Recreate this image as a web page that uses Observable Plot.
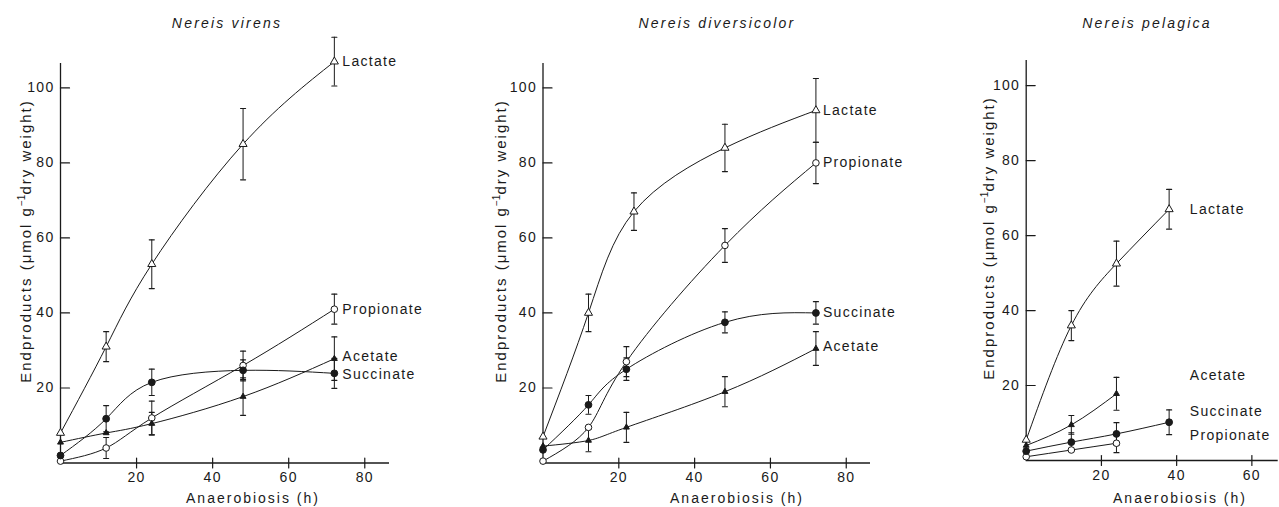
<!DOCTYPE html>
<html><head><meta charset="utf-8">
<script src="https://cdn.jsdelivr.net/npm/d3@7"></script>
<script src="https://cdn.jsdelivr.net/npm/@observablehq/plot@0.6"></script>
<style>
body{margin:0;background:#fff;}
#chart{position:relative;width:1279px;height:507px;overflow:hidden;font-family:"Liberation Sans","DejaVu Sans",sans-serif;color:#1a1a1a;}
.panel{position:absolute;top:0;}
.panel svg{overflow:visible;max-width:none;}
.lbl{position:absolute;white-space:nowrap;transform:translate(-50%,-50%);font-size:14px;letter-spacing:2px;}
.title{font-style:italic;font-size:14px;letter-spacing:2.2px;}
.ylab{transform:translate(-50%,-50%) rotate(-90deg);font-size:15px;letter-spacing:2px;}
.ylab sup{font-size:10px;letter-spacing:0;}
</style></head><body><div id="chart"></div>
<script>
// ---------- data ----------
const seriesNames = ["Lactate", "Propionate", "Acetate", "Succinate"];
const yTickValues = [20, 40, 60, 80, 100];

// Nereis virens
const virensHours = [0, 12, 24, 48, 72];
const virensLactate = [8, 31, 53, 85, 107];
const virensLactateErr = [0, 4, 6.5, 9.5, 6.5];
const virensPropionate = [0.5, 4, 12, 26, 41];
const virensPropionateErr = [0, 2.8, 4.5, 3.8, 4];
const virensAcetate = [5.5, 8, 10.5, 17.7, 27.8];
const virensAcetateErr = [0, 0, 3, 5, 5.8];
const virensSuccinate = [2, 11.8, 21.5, 24.7, 23.9];
const virensSuccinateErr = [0, 3.5, 3.5, 2.8, 4];
const virensXTicks = [20, 40, 60, 80];
const virensLabelY = [107, 41, 28.5, 23.5];

// Nereis diversicolor
const diversicolorLactateHours = [0, 12, 24, 48, 72];
const diversicolorHours = [0, 12, 22, 48, 72];
const diversicolorLactate = [7, 40, 67, 84, 94];
const diversicolorLactateErr = [0, 5, 5, 6.3, 8.5];
const diversicolorPropionate = [0.5, 9.5, 27, 58, 80];
const diversicolorPropionateErr = [0, 0, 4, 4.5, 5.5];
const diversicolorAcetate = [4.5, 6, 9.5, 19, 30.5];
const diversicolorAcetateErr = [0, 3, 4, 4, 4.5];
const diversicolorSuccinate = [3.5, 15.5, 25, 37.5, 40];
const diversicolorSuccinateErr = [0, 2.5, 3, 2.8, 3];
const diversicolorXTicks = [20, 40, 60, 80];
const diversicolorLabelY = [94, 80, 31, 40];

// Nereis pelagica
const pelagicaHours = [0, 12, 24, 38];
const pelagicaLactate = [5.5, 36, 52.5, 67];
const pelagicaLactateErr = [0, 4, 6, 5.3];
const pelagicaPropionate = [1, 2.8, 4.6];
const pelagicaPropionateErr = [0, 0, 2.5];
const pelagicaAcetate = [4, 9.5, 17.8];
const pelagicaAcetateErr = [0, 2.5, 4.4];
const pelagicaSuccinate = [2.5, 4.9, 7.1, 10.2];
const pelagicaSuccinateErr = [0, 2.5, 3, 3.3];
const pelagicaXTicks = [20, 40, 60];
const pelagicaLabelX = 43.5;
const pelagicaLabelY = [67, 6.7, 22.7, 13];

// ---------- drawing ----------
const ink = "#1a1a1a";
const markerStyle = {
  Lactate: {symbol: "triangle", fill: "white", r: 3},
  Propionate: {symbol: "circle", fill: "white", r: 3.3},
  Acetate: {symbol: "triangle", fill: ink, r: 2.2},
  Succinate: {symbol: "circle", fill: ink, r: 3.4}
};
const xTickShape = {draw(c, l) { c.moveTo(0, -l / 2); c.lineTo(0, l / 2); }};
const yTickShape = {draw(c, l) { c.moveTo(0, 0); c.lineTo(l, 0); }};
const capShape = {draw(c, l) { c.moveTo(-l / 2, 0); c.lineTo(l / 2, 0); }};

function panel(cfg) {
  const rows = cfg.series.flatMap(s => s.values.map((v, i) => ({series: s.name, hour: s.hours[i], value: v, err: s.errs[i]})));
  const errRows = rows.filter(d => d.err > 0);
  const labels = cfg.series.map((s, i) => ({name: s.name, x: cfg.labelX ?? s.hours[s.hours.length - 1], y: cfg.labelY[i]}));
  const marks = [
    Plot.ruleY([0], {stroke: ink, strokeWidth: 1.3}),
    Plot.ruleX([0], {stroke: ink, strokeWidth: 1.3}),
    Plot.vector(cfg.xTicks, {x: d => d, y: 0, length: 10, shape: xTickShape, anchor: "start", stroke: ink, strokeWidth: 1.2}),
    Plot.vector(yTickValues, {x: 0, y: d => d, length: 9, shape: yTickShape, anchor: "start", stroke: ink, strokeWidth: 1.2}),
    Plot.text(cfg.xTicks, {x: d => d, y: 0, dy: 15, text: d => String(d), fontSize: 14, fill: ink}),
    Plot.text(yTickValues, {x: 0, y: d => d, dx: -6, textAnchor: "end", text: d => String(d), fontSize: 14, fill: ink}),
    Plot.line(rows, {x: "hour", y: "value", z: "series", curve: "natural", stroke: ink, strokeWidth: 1}),
    Plot.ruleX(errRows, {x: "hour", y1: d => d.value - d.err, y2: d => d.value + d.err, stroke: ink, strokeWidth: 1}),
    Plot.vector(errRows, {x: "hour", y: d => d.value + d.err, length: 5, shape: capShape, anchor: "start", stroke: ink, strokeWidth: 1.2}),
    Plot.vector(errRows, {x: "hour", y: d => d.value - d.err, length: 5, shape: capShape, anchor: "start", stroke: ink, strokeWidth: 1.2})
  ];
  for (const name of seriesNames) {
    const m = markerStyle[name];
    marks.push(Plot.dot(rows.filter(d => d.series === name), {x: "hour", y: "value", symbol: m.symbol, r: m.r, fill: m.fill, stroke: ink, strokeWidth: 1}));
  }
  marks.push(Plot.text(labels, {x: "x", y: "y", text: "name", dx: cfg.labelDx, textAnchor: "start", fontSize: 14, fill: ink}));
  const svg = Plot.plot({
    width: cfg.width, height: 507,
    marginLeft: cfg.ml, marginRight: cfg.mr, marginTop: cfg.mt, marginBottom: cfg.mb,
    x: {domain: cfg.xDomain, axis: null},
    y: {domain: cfg.yDomain, axis: null},
    style: {background: "transparent", overflow: "visible", fontFamily: '"Liberation Sans","DejaVu Sans",sans-serif', letterSpacing: "1.3px", color: ink},
    marks
  });
  const div = document.createElement("div");
  div.className = "panel";
  div.style.left = cfg.left + "px";
  div.style.width = cfg.width + "px";
  div.appendChild(svg);
  return div;
}

const chart = document.getElementById("chart");
chart.appendChild(panel({
  left: 0, width: 420, ml: 60, mr: 31, mt: 63, mb: 44.5,
  xDomain: [0, 86.5], yDomain: [0, 106.5], xTicks: virensXTicks,
  labelY: virensLabelY, labelDx: 8,
  series: [
    {name: "Lactate", hours: virensHours, values: virensLactate, errs: virensLactateErr},
    {name: "Propionate", hours: virensHours, values: virensPropionate, errs: virensPropionateErr},
    {name: "Acetate", hours: virensHours, values: virensAcetate, errs: virensAcetateErr},
    {name: "Succinate", hours: virensHours, values: virensSuccinate, errs: virensSuccinateErr}
  ]
}));
chart.appendChild(panel({
  left: 420, width: 450, ml: 122.5, mr: 0, mt: 63, mb: 44.5,
  xDomain: [0, 86.4], yDomain: [0, 106.5], xTicks: diversicolorXTicks,
  labelY: diversicolorLabelY, labelDx: 7,
  series: [
    {name: "Lactate", hours: diversicolorLactateHours, values: diversicolorLactate, errs: diversicolorLactateErr},
    {name: "Propionate", hours: diversicolorHours, values: diversicolorPropionate, errs: diversicolorPropionateErr},
    {name: "Acetate", hours: diversicolorHours, values: diversicolorAcetate, errs: diversicolorAcetateErr},
    {name: "Succinate", hours: diversicolorHours, values: diversicolorSuccinate, errs: diversicolorSuccinateErr}
  ]
}));
chart.appendChild(panel({
  left: 870, width: 409, ml: 155.7, mr: 1.3, mt: 60, mb: 47,
  xDomain: [0, 67], yDomain: [0, 106.7], xTicks: pelagicaXTicks,
  labelX: pelagicaLabelX, labelY: pelagicaLabelY, labelDx: 0,
  series: [
    {name: "Lactate", hours: pelagicaHours, values: pelagicaLactate, errs: pelagicaLactateErr},
    {name: "Propionate", hours: pelagicaHours, values: pelagicaPropionate, errs: pelagicaPropionateErr},
    {name: "Acetate", hours: pelagicaHours, values: pelagicaAcetate, errs: pelagicaAcetateErr},
    {name: "Succinate", hours: pelagicaHours, values: pelagicaSuccinate, errs: pelagicaSuccinateErr}
  ]
}));

// titles and axis labels
const titles = [["Nereis virens", 227], ["Nereis diversicolor", 717], ["Nereis pelagica", 1147]];
const xLabelCenters = [253, 737, 1180];
const yLabelPos = [[25, 241], [500, 241], [988, 238]];
function addLabel(html, x, y, cls) {
  const d = document.createElement("div");
  d.className = "lbl " + cls;
  d.style.left = x + "px";
  d.style.top = y + "px";
  d.innerHTML = html;
  chart.appendChild(d);
}
titles.forEach(([t, x]) => addLabel(t, x, 23, "title"));
xLabelCenters.forEach(x => addLabel("Anaerobiosis (h)", x, 498, "xlab"));
yLabelPos.forEach(([x, y]) => addLabel("Endproducts (μmol g<sup>−1</sup>dry weight)", x, y, "ylab"));
</script>
</body></html>
